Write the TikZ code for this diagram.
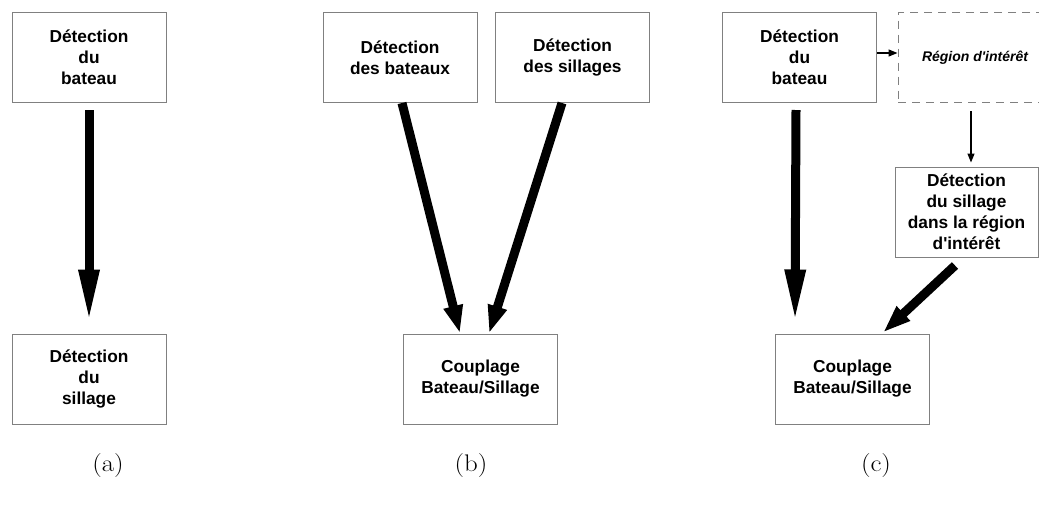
\documentclass[tikz,border=0pt]{standalone}
\usepackage{fontspec}
\newfontfamily\arialfont{Liberation Sans}
\usetikzlibrary{arrows.meta,calc}
\definecolor{boxgray}{HTML}{808080}
\tikzset{
  procbox/.style={draw=boxgray, line width=1pt, minimum width=#1, minimum height=90pt,
    inner sep=0pt, align=center, font=\arialfont\bfseries\fontsize{17.3}{21}\selectfont},
  procbox/.default=154pt,
  dashbox/.style={procbox, dash pattern=on 8pt off 6pt,
    font=\arialfont\bfseries\itshape\fontsize{14}{16}\selectfont},
  longarrow/.style={line width=9pt, -{Triangle[length=53pt,width=19pt]}},
  shortarrow/.style={line width=9pt, -{Triangle[length=28pt,width=18pt]}},
  thinarrow/.style={line width=1.3pt, -{Triangle[length=9pt,width=7pt]}},
  sublabel/.style={font=\fontsize{24}{28}\selectfont}
}
\begin{document}
\begin{tikzpicture}[x=1pt,y=-1pt]
\useasboundingbox (0,0) rectangle (1039,507);
% (a)
\node[procbox] (a1) at (89,57.5) {Détection\\du\\bateau};
\node[procbox] (a2) at (89,379) {Détection\\du\\sillage};
\draw[longarrow] ($(a1.south)+(0,7)$) -- ($(a2.north)+(0,-11)$);
% (b)
\node[procbox] (b1) at (400,57.5) {Détection\\des bateaux};
\node[procbox] (b2) at (572.5,57.5) {Détection\\des sillages};
\node[procbox] (b3) at (480.5,379) {Couplage\\Bateau/Sillage};
\draw[shortarrow] ($(b1.south)+(2,0)$) -- ($(b3.north)+(-20.5,0)$);
\draw[shortarrow] ($(b2.south)+(-10.5,0)$) -- ($(b3.north)+(8.5,0)$);
% (c)
\node[procbox] (c1) at (799.5,57.5) {Détection\\du\\bateau};
\node[dashbox] (c2) at (975,57.5) {Région d'intérêt};
\node[procbox=143pt] (c3) at (966.5,212) {Détection\\du sillage\\dans la région\\d'intérêt};
\node[procbox] (c4) at (852.5,379) {Couplage\\Bateau/Sillage};
\draw[thinarrow] ($(c1.east)+(0,-4.5)$) -- ($(c2.west)+(0,-4.5)$);
\draw[thinarrow] ($(c2.south)+(-4,8)$) -- ($(c3.north)+(4.5,-4)$);
\draw[longarrow] ($(c1.south)+(-3.5,7)$) -- ($(c4.north)+(-57.5,-11)$);
\draw[shortarrow] ($(c3.south)+(-11.5,8)$) -- ($(c4.north)+(30.5,-1)$);
% labels
\node[sublabel] (la) at (108,466) {\scalebox{1.12}[1]{(a)}};
\node[sublabel] (lb) at (471,466) {\scalebox{1.12}[1]{(b)}};
\node[sublabel] (lc) at (876,466) {\scalebox{1.12}[1]{(c)}};
\end{tikzpicture}
\end{document}
